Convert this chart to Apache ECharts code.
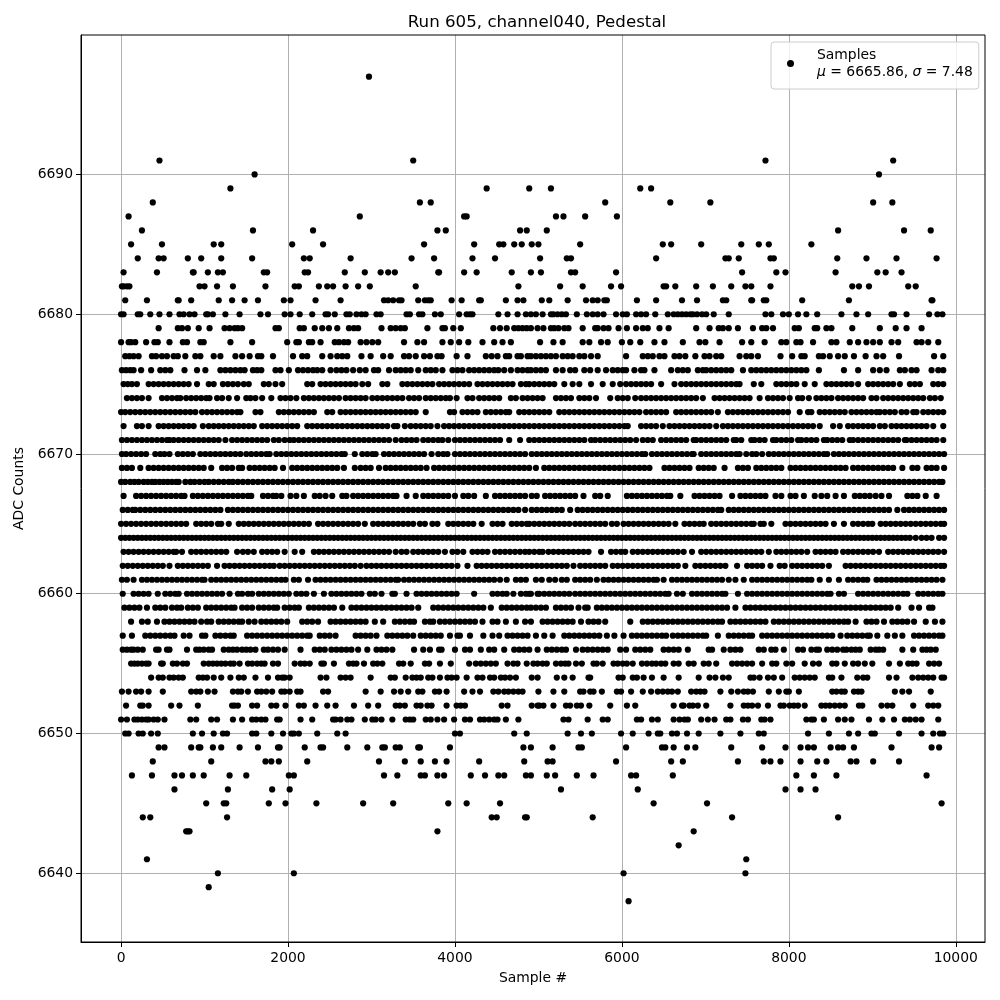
<!DOCTYPE html>
<html>
<head>
<meta charset="utf-8">
<title>Run 605, channel040, Pedestal</title>
<script src="https://cdn.jsdelivr.net/npm/echarts@6/dist/echarts.min.js"></script>
<style>html,body{margin:0;padding:0;background:#fff}#chart{width:1000px;height:1000px}</style>
</head>
<body>
<div id="chart"></div>
<script>
// sample numbers, in tens of samples, one list per ADC level
const sampleStep = 10;
const adc6697 = [297];
const adc6691 = [46,350,772,925];
const adc6690 = [160,908];
const adc6689 = [131,438,489,515,622,635];
const adc6688 = [38,358,371,580,658,706,901,924];
const adc6687 = [9,286,411,414,521,530,556,594];
const adc6686 = [25,158,230,379,389,478,486,510,859,938,970];
const adc6685 = [12,49,111,120,205,242,363,423,453,458,471,480,492,500,550,649,659,695,743,764,776,827];
const adc6684 = [20,45,51,80,96,120,157,219,226,275,348,375,421,448,502,534,539,641,724,728,740,778,782,858,893,929,977];
const adc6683 = [3,43,86,87,104,116,122,171,175,220,224,268,292,311,320,328,380,381,411,426,468,491,503,539,544,593,744,785,796,856,906,916,935];
const adc6682 = [1,3,7,10,94,100,115,134,173,208,213,237,247,254,269,284,298,353,476,526,553,587,599,650,653,664,689,709,731,748,755,778,876,884,896,943,952];
const adc6681 = [5,31,68,69,84,117,133,148,164,195,203,233,263,315,320,326,333,336,356,364,368,371,396,408,429,431,461,475,482,504,513,535,557,565,571,579,582,618,641,672,690,721,725,755,756,770,773,816,872,971,972];
const adc6680 = [0,3,20,23,35,46,58,70,75,82,88,102,104,110,125,142,167,176,196,203,214,229,245,248,256,270,274,282,288,293,306,311,342,346,357,361,376,383,405,414,418,421,452,463,475,485,491,497,505,515,518,523,528,533,546,558,565,571,578,593,601,606,617,623,629,640,655,662,667,672,677,682,685,690,696,701,710,728,772,779,793,800,811,821,834,863,881,895,923,926,941,968,978,984];
const adc6679 = [45,68,73,80,93,106,124,130,136,140,145,185,189,214,219,232,241,249,259,273,279,284,312,323,329,335,340,367,385,388,398,407,446,454,462,471,476,481,486,491,499,506,515,519,524,531,536,553,568,571,578,584,596,606,617,625,631,645,656,689,705,716,721,728,739,757,768,773,781,807,812,831,834,845,851,876,909,928,941,959];
const adc6678 = [0,9,12,17,30,40,44,58,74,79,95,99,131,157,199,210,213,225,229,239,256,261,267,272,287,294,301,308,339,355,363,385,395,405,416,433,447,457,467,502,518,529,553,561,575,583,600,610,622,639,651,673,693,700,717,744,755,771,791,797,809,814,829,851,857,873,883,893,901,909,923,931,953,959,967,979];
const adc6677 = [5,10,15,21,37,42,49,55,63,68,77,89,95,111,119,137,145,154,164,168,182,206,217,223,241,251,259,265,271,288,299,314,323,339,345,353,363,370,379,384,402,415,437,444,451,461,465,475,479,487,491,497,503,509,515,521,529,535,541,549,555,563,571,605,625,631,637,645,651,663,669,676,688,699,705,713,719,741,749,755,763,790,804,815,819,836,841,849,859,867,878,892,905,913,932,974,985];
const adc6676 = [1,6,11,15,24,36,47,53,59,76,91,101,119,125,131,137,143,148,158,163,168,185,191,201,212,218,224,230,235,241,251,258,264,270,278,286,293,303,308,321,329,335,341,347,356,365,371,377,385,397,403,409,417,423,429,435,441,447,452,459,467,475,481,487,491,497,503,509,521,529,538,544,555,562,571,581,589,595,601,605,615,623,627,639,659,667,673,679,691,697,701,707,713,719,725,731,745,755,761,767,773,779,785,791,797,803,809,815,821,836,866,883,901,909,917,933,939,947,953,971,979,985];
const adc6675 = [3,8,13,19,33,39,45,51,57,63,69,75,81,91,105,111,122,128,134,140,147,153,171,177,185,193,223,229,239,245,251,257,263,269,275,281,289,296,313,319,337,343,349,355,361,367,373,381,387,393,399,405,411,417,427,433,439,445,451,457,463,469,479,485,489,495,501,507,513,519,531,541,549,563,577,589,598,605,611,617,623,629,635,647,663,671,677,683,689,695,701,707,713,719,725,731,737,741,758,767,785,791,797,803,809,819,831,845,851,857,863,869,875,883,895,901,907,913,919,925,933,945,951,957,973,979,985];
const adc6674 = [7,13,19,25,33,49,55,61,67,71,78,84,90,96,102,106,115,121,129,139,150,155,161,169,180,191,197,203,210,219,225,231,237,243,249,255,261,269,275,281,287,293,301,307,313,319,325,331,337,345,351,357,365,371,377,383,389,394,402,415,421,429,435,441,447,453,467,473,481,487,493,499,505,521,527,533,539,549,555,561,569,586,595,601,607,616,623,629,635,641,647,653,659,665,671,677,683,689,697,711,717,723,729,735,741,747,753,765,775,781,787,793,801,811,816,824,833,839,845,851,859,865,871,877,883,889,899,905,913,919,925,931,937,943,949,955,961,969,975,982];
const adc6673 = [0,5,11,17,23,29,35,41,47,53,59,65,71,77,83,89,97,103,109,115,121,127,133,139,143,161,167,189,195,201,207,213,219,225,231,247,253,263,269,275,281,287,293,299,305,311,317,323,329,335,341,347,353,365,394,399,409,415,421,427,437,443,449,455,461,465,477,483,489,495,501,507,513,525,531,537,543,549,555,561,567,573,579,585,591,597,603,609,615,621,629,635,641,647,653,665,671,677,683,689,695,701,707,715,727,733,739,745,751,757,763,769,775,781,787,793,799,813,823,827,837,843,849,855,861,867,875,881,887,893,899,905,909,915,921,927,935,941,949,953,961,967,973,979,985];
const adc6672 = [3,19,25,33,45,51,57,63,69,75,81,87,98,105,111,117,123,129,135,141,147,153,159,169,175,181,187,193,199,205,211,223,229,235,241,247,253,259,265,271,277,283,289,295,301,307,313,319,327,331,340,347,353,359,365,371,379,387,393,399,405,411,417,423,429,435,441,447,453,459,465,471,477,483,489,495,501,507,513,519,525,531,537,543,549,555,561,567,573,579,585,591,597,603,607,623,629,635,641,649,657,663,669,675,681,687,693,699,705,713,721,727,733,739,745,751,757,763,769,775,781,787,793,799,805,811,817,823,829,837,853,861,871,877,883,889,895,901,909,915,923,929,935,941,947,953,959,965,973,985];
const adc6671 = [1,7,13,19,25,31,37,43,49,55,58,63,69,75,81,87,93,99,105,111,117,125,133,139,145,151,157,163,169,175,183,189,196,202,207,213,219,225,231,237,243,249,255,261,267,273,279,285,291,297,303,309,315,321,329,336,342,348,354,362,368,374,380,385,392,400,406,412,418,424,430,436,442,448,454,465,478,489,495,501,507,513,519,525,531,537,543,549,555,563,568,574,580,586,592,598,604,610,617,625,631,637,647,653,659,665,671,677,686,689,695,701,707,713,719,725,734,737,743,755,759,765,771,781,785,791,797,803,811,815,821,827,833,842,846,852,858,864,873,877,883,889,895,901,907,913,919,925,931,939,941,947,953,959,965,971,977,985];
const adc6670 = [1,6,12,18,24,30,41,47,52,58,68,74,80,86,95,101,107,113,119,125,131,137,143,150,156,162,168,174,178,186,192,198,204,210,216,222,228,234,240,246,252,258,264,268,280,289,295,301,305,315,321,327,333,339,345,351,357,363,372,380,386,391,400,406,412,418,424,430,436,442,448,454,460,466,472,478,484,492,498,504,510,516,522,528,534,540,546,552,558,564,570,576,582,588,594,600,606,612,618,624,628,636,642,648,654,660,666,672,678,684,686,695,701,707,713,719,725,731,737,741,749,756,761,768,776,782,788,794,800,806,812,818,824,830,836,842,846,854,860,866,872,878,884,890,896,902,908,914,920,926,932,938,944,950,956,962,968,974,980,986];
const adc6669 = [1,7,13,23,33,39,45,51,57,63,69,75,81,87,93,99,108,121,127,133,141,145,154,160,166,172,178,184,194,205,211,217,223,229,235,241,247,253,259,267,280,287,293,299,309,317,323,329,335,341,347,353,359,366,375,381,387,393,399,405,411,417,423,429,435,441,447,453,459,465,471,477,483,489,497,507,513,519,525,531,537,543,549,555,561,567,573,579,585,591,597,603,609,615,621,627,633,651,657,663,669,675,681,692,698,704,710,723,739,745,751,761,767,773,779,785,791,802,808,814,820,826,832,838,844,850,856,862,868,877,883,889,895,901,907,913,919,925,936,948,954,965,971,977,986];
const adc6668 = [0,5,11,16,21,27,32,37,41,46,51,56,61,66,69,77,83,88,94,100,105,111,117,123,129,134,140,146,152,158,164,170,176,182,188,194,200,206,212,218,224,230,236,242,248,254,260,266,272,278,284,290,296,302,308,314,320,326,332,338,344,350,356,362,368,374,380,386,392,398,404,410,416,422,428,434,440,446,452,458,464,470,476,482,488,494,500,506,512,518,524,530,536,542,548,554,560,566,572,578,584,590,596,602,608,614,620,626,632,638,644,650,656,662,668,674,680,686,692,698,704,710,716,722,728,734,740,746,752,758,764,770,776,782,788,794,800,806,812,818,824,830,836,842,848,854,860,866,872,878,884,890,896,902,908,914,920,926,932,938,944,950,956,962,968,974,980,984];
const adc6667 = [3,18,24,30,36,42,48,54,60,66,72,76,86,92,98,104,110,116,122,128,134,140,146,152,156,170,176,182,186,192,203,210,219,232,238,245,253,265,270,278,284,290,296,302,308,314,320,326,330,342,353,362,368,374,380,386,392,400,410,416,423,437,448,454,460,466,472,478,484,492,498,508,514,520,526,532,538,544,554,568,574,583,606,612,618,624,630,636,642,648,654,658,670,687,693,699,705,711,717,732,742,748,754,760,766,772,784,791,802,808,818,831,839,846,856,866,879,885,891,897,904,911,920,942,948,954,964,977];
const adc6666 = [2,8,14,17,23,29,35,41,47,53,59,65,71,77,83,89,95,101,107,113,119,128,134,140,146,152,158,164,170,176,182,188,194,200,206,212,218,224,230,236,242,248,254,260,266,272,278,284,290,296,302,308,314,320,326,332,338,344,350,356,362,368,374,380,386,392,398,404,410,416,422,428,434,440,446,452,458,464,470,476,484,492,498,504,510,516,522,528,538,547,553,559,565,571,577,583,589,595,601,607,613,619,625,631,637,643,649,655,661,667,673,679,685,691,697,703,709,715,719,728,734,740,746,752,758,764,770,776,782,788,794,800,806,812,818,824,830,836,842,848,854,860,866,872,878,884,890,896,902,908,914,920,930,938,944,950,956,962,968,974,980,986];
const adc6665 = [0,6,12,18,24,30,36,42,48,54,60,66,72,78,90,96,102,108,116,120,129,141,147,153,159,165,171,177,183,189,195,201,207,213,219,225,236,242,248,254,260,266,272,278,284,292,302,308,314,320,326,332,338,344,350,358,364,373,379,392,398,404,410,416,422,432,445,451,457,468,474,480,486,489,495,501,507,513,519,525,531,537,544,550,556,562,568,574,580,588,594,602,608,614,620,626,632,638,644,650,656,664,675,681,687,693,698,707,713,719,725,731,737,743,749,755,758,766,770,779,796,802,808,814,820,826,832,838,844,854,866,877,883,889,895,900,910,916,922,928,934,940,946,952,958,964,970,976,982,986];
const adc6664 = [0,5,10,15,20,25,30,35,40,45,50,55,60,65,70,75,80,85,90,95,100,105,110,115,120,125,130,135,140,145,150,155,160,165,170,175,180,185,190,195,200,205,210,215,220,225,230,235,240,245,250,255,260,265,270,275,280,285,290,295,300,305,310,315,320,325,330,335,340,345,350,355,360,365,370,375,380,385,390,395,400,405,410,415,420,425,430,435,440,445,450,455,460,465,470,475,480,485,490,495,500,505,510,515,520,525,530,535,540,545,550,555,560,565,570,575,580,585,590,595,600,605,610,615,620,625,630,635,640,645,650,655,660,665,670,675,680,685,690,695,700,705,710,715,720,725,730,735,740,745,750,755,760,765,770,775,780,785,790,795,800,805,810,815,820,825,830,835,840,845,850,855,860,865,870,875,880,885,890,895,900,905,910,915,920,925,930,935,940,945,952,959,965,971,980,986];
const adc6663 = [3,9,15,21,27,33,39,45,51,57,63,66,73,84,90,96,102,108,114,120,126,139,146,152,159,169,175,181,187,196,208,217,231,237,243,249,255,261,267,273,279,285,291,297,303,309,315,321,329,336,342,350,356,362,368,374,380,388,397,403,410,421,427,433,439,448,454,460,466,472,478,484,489,495,501,505,512,518,524,530,536,542,548,554,560,575,587,593,599,604,613,619,625,631,637,643,649,655,661,667,674,684,695,701,707,713,719,725,731,737,743,749,755,761,767,776,785,791,797,803,809,815,822,832,838,844,850,856,865,871,877,883,889,895,901,908,919,925,931,937,943,949,955,961,967,973,979,986];
const adc6662 = [2,8,14,20,26,32,38,44,50,58,68,74,80,86,92,98,104,115,124,130,136,142,148,154,160,166,172,178,183,190,196,202,208,214,220,226,232,238,244,250,256,262,268,274,280,287,294,300,306,312,318,324,330,336,342,348,354,360,366,372,378,384,390,396,403,415,426,432,438,444,450,456,462,468,474,480,486,492,498,504,510,516,522,528,534,542,550,556,562,568,574,580,589,595,601,607,613,619,625,631,637,643,649,655,661,667,676,688,694,700,706,712,718,724,738,750,756,762,768,778,789,795,804,810,816,822,828,834,840,848,868,874,880,886,892,898,904,910,916,922,928,934,940,946,952,958,964,970,976,982,986];
const adc6661 = [1,7,15,25,31,37,43,49,55,61,67,73,79,85,91,97,100,108,114,120,126,132,138,144,150,156,162,168,174,180,186,192,197,207,213,224,233,239,245,251,257,263,269,275,281,287,293,299,305,311,317,323,329,332,339,345,351,357,363,369,375,381,387,393,399,405,411,417,423,429,435,441,447,454,462,473,479,485,497,504,513,520,528,534,544,550,556,562,570,578,584,590,596,602,608,614,620,626,632,638,642,650,660,666,672,678,684,690,696,702,708,714,720,728,736,746,756,762,768,774,780,786,792,798,804,810,816,822,827,837,848,860,871,877,883,889,894,905,911,917,923,929,935,941,947,953,959,965,971,977,984];
const adc6660 = [2,15,21,27,33,44,53,59,65,69,79,85,91,97,103,109,115,121,130,140,145,152,157,165,171,177,183,189,195,201,210,216,222,231,243,252,258,264,270,276,282,288,298,304,312,325,328,342,354,360,366,372,378,384,390,396,402,423,445,451,457,462,470,479,485,489,491,499,501,507,513,519,525,531,537,544,550,556,562,568,574,580,586,592,598,604,610,616,622,628,634,640,646,652,656,666,673,684,690,696,702,708,714,720,724,739,750,756,762,768,774,780,786,792,798,804,810,816,822,828,834,840,846,850,860,866,883,889,895,901,907,913,919,925,931,937,942,955,961,967,973,979,984];
const adc6659 = [4,10,16,22,31,41,47,53,61,67,72,80,86,92,102,108,114,120,126,132,136,145,151,157,165,171,177,183,187,196,202,208,213,225,231,237,243,249,255,265,276,282,288,294,300,306,312,318,324,330,336,342,348,356,374,380,386,392,398,404,410,416,422,428,434,443,456,462,468,474,480,486,491,497,503,509,521,527,533,539,548,556,559,570,576,582,588,594,600,606,612,618,624,630,636,642,648,654,660,666,672,678,684,690,696,702,708,714,720,726,736,748,754,760,766,772,778,784,790,796,802,808,814,820,826,832,838,844,850,856,862,868,874,880,886,892,898,904,910,916,922,931,947,956,968,972];
const adc6658 = [12,25,32,43,52,58,64,70,76,82,88,96,103,108,117,123,129,135,141,145,153,160,168,174,180,186,192,199,217,223,229,236,251,257,263,269,275,281,287,293,304,314,328,334,340,346,351,364,370,374,382,388,394,400,406,412,418,424,433,445,451,461,473,484,491,505,511,517,523,529,535,541,551,560,566,572,580,610,625,631,637,643,649,655,661,667,673,679,685,691,697,703,709,715,720,730,736,742,748,754,760,766,772,782,788,794,800,806,812,818,824,830,836,842,848,854,860,866,871,880,893,899,905,914,924,930,936,942,950,964,975,984];
const adc6657 = [2,13,29,35,41,47,53,59,64,75,82,97,101,113,119,125,131,135,151,157,163,169,175,181,187,193,199,205,211,217,223,226,238,244,250,257,281,287,293,299,306,319,325,331,337,343,350,359,365,371,377,383,394,403,406,418,434,445,453,463,469,475,481,487,497,507,517,531,537,543,549,555,561,567,573,582,591,602,612,618,624,630,636,642,648,653,661,667,673,679,685,691,697,701,715,728,734,740,746,752,756,768,774,780,786,792,798,804,810,816,822,828,834,840,846,852,862,870,876,882,888,894,897,906,918,927,936,950,956,962,968,974,980,984];
const adc6656 = [2,7,12,15,20,26,42,45,55,58,79,90,94,99,105,109,123,129,134,139,145,150,155,161,171,176,182,188,196,215,232,238,244,252,258,264,270,276,284,295,306,312,318,325,351,362,370,381,384,400,412,418,431,441,447,459,471,477,483,489,499,510,516,522,528,533,545,553,559,565,571,577,583,598,605,616,622,628,634,650,656,662,668,679,704,708,722,730,736,742,764,770,779,784,794,811,817,827,833,836,846,852,858,865,869,875,880,885,898,904,908,913,936,949,960,965,970,976];
const adc6655 = [12,16,20,25,30,33,48,50,62,67,74,79,99,105,110,115,120,125,131,135,142,152,157,163,168,172,182,188,208,215,220,226,240,243,255,273,278,282,291,302,307,313,333,338,347,364,369,382,395,417,425,431,437,443,449,463,470,475,486,494,499,505,510,521,527,532,536,545,552,566,570,577,590,595,601,606,613,624,630,636,641,647,652,662,668,680,686,698,704,713,732,738,744,750,756,768,780,785,797,804,819,829,836,852,857,867,877,883,891,900,920,933,943,948,953,968,974,980];
const adc6654 = [36,45,50,58,63,69,74,93,98,103,111,120,131,141,147,161,176,188,193,196,202,239,246,263,269,275,299,323,328,341,349,354,359,368,373,382,391,396,402,414,427,433,442,447,455,460,466,473,492,499,522,531,541,560,562,596,601,613,618,626,636,650,668,692,705,712,721,728,754,758,765,775,782,792,807,813,819,825,831,848,852,863,882,889,894,920,929,948,955,961,967,973,983,986];
const adc6653 = [1,9,18,24,33,50,84,90,95,104,112,134,140,144,152,163,168,174,181,192,196,202,211,215,242,248,293,311,327,335,344,356,361,376,381,390,411,421,430,446,452,459,464,470,476,481,500,518,531,550,554,562,566,576,594,599,611,625,635,643,649,655,660,667,683,689,694,699,718,731,739,746,751,757,776,788,797,800,812,852,857,863,867,878,883,887,927,936,944,970];
const adc6652 = [6,23,26,33,60,70,92,133,136,140,157,163,180,186,197,213,219,233,247,257,279,296,308,329,334,340,354,359,367,372,390,402,407,412,456,463,492,499,501,506,518,533,538,546,551,561,586,606,616,662,672,674,681,685,691,701,730,746,751,756,763,775,790,794,801,806,811,819,839,844,849,855,861,867,884,888,911,918,924,949,967,973,979];
const adc6651 = [0,7,16,20,25,30,33,39,44,52,83,90,108,115,134,145,157,162,168,173,187,190,215,229,254,257,263,271,276,292,301,305,312,325,341,346,350,365,371,379,387,399,412,418,430,435,441,447,451,461,476,530,536,559,577,583,618,623,636,643,662,669,675,679,695,703,711,725,730,745,751,767,771,778,821,827,830,842,859,867,875,896,912,926,939,945,952,959,979];
const adc6650 = [5,9,21,26,36,44,86,97,111,122,127,157,162,180,194,204,207,213,235,259,269,400,406,471,486,535,551,564,599,613,632,643,646,660,666,678,692,718,742,764,770,823,848,872,883,899,903,932,959,973,981,985];
const adc6649 = [45,52,84,93,95,110,120,142,164,188,190,220,239,242,271,295,313,316,329,334,356,358,394,482,491,517,548,552,605,648,652,662,678,688,731,768,796,814,823,830,850,859,865,878,923,971,980];
const adc6648 = [38,108,173,180,189,223,309,340,359,376,390,429,483,511,517,593,659,673,739,770,778,790,814,834,845,874,881,901,932];
const adc6647 = [13,37,64,73,86,99,130,150,201,207,315,331,359,364,379,387,419,436,452,459,485,491,510,520,546,566,611,617,661,809,830,857,965];
const adc6646 = [64,128,181,202,527,619,796,814,832];
const adc6645 = [102,123,126,177,197,234,290,326,392,414,454,638,702,983];
const adc6644 = [26,35,127,444,450,484,486,565,732,859];
const adc6643 = [78,80,82,379,686];
const adc6642 = [668];
const adc6641 = [31,749];
const adc6640 = [116,207,602,748];
const adc6639 = [105];
const adc6638 = [608];

const levels = [6697,6691,6690,6689,6688,6687,6686,6685,6684,6683,6682,6681,6680,6679,6678,6677,6676,6675,6674,6673,6672,6671,6670,6669,6668,6667,6666,6665,6664,6663,6662,6661,6660,6659,6658,6657,6656,6655,6654,6653,6652,6651,6650,6649,6648,6647,6646,6645,6644,6643,6642,6641,6640,6639,6638];
const levelSamples = [adc6697,adc6691,adc6690,adc6689,adc6688,adc6687,adc6686,adc6685,adc6684,adc6683,adc6682,adc6681,adc6680,adc6679,adc6678,adc6677,adc6676,adc6675,adc6674,adc6673,adc6672,adc6671,adc6670,adc6669,adc6668,adc6667,adc6666,adc6665,adc6664,adc6663,adc6662,adc6661,adc6660,adc6659,adc6658,adc6657,adc6656,adc6655,adc6654,adc6653,adc6652,adc6651,adc6650,adc6649,adc6648,adc6647,adc6646,adc6645,adc6644,adc6643,adc6642,adc6641,adc6640,adc6639,adc6638];
const xTicks = [0,2000,4000,6000,8000,10000];
const yTicks = [6640,6650,6660,6670,6680,6690];

const points = [];
levels.forEach(function (level, i) {
    levelSamples[i].forEach(function (s) {
        points.push([s * sampleStep, level]);
    });
});

const font = 'DejaVu Sans';
const myChart = echarts.init(document.getElementById('chart'));
const option = {
    animation: false,
    textStyle: { fontFamily: font },
    title: {
        text: 'Run 605, channel040, Pedestal',
        left: 532,
        top: 9,
        textAlign: 'center',
        textStyle: { fontFamily: font, fontSize: 16.67, fontWeight: 'normal', color: '#000' }
    },
    legend: {
        left: 771,
        top: 42,
        padding: [6, 6, 10, 16],
        backgroundColor: 'rgba(255,255,255,0.8)',
        borderColor: '#ccc',
        borderWidth: 1,
        borderRadius: 3,
        itemWidth: 7,
        itemHeight: 7,
        icon: 'circle',
        data: ['Samples'],
        formatter: function () {
            return '{a|Samples}\n{i|μ}{a| = 6665.86, }{i|σ}{a| = 7.48}';
        },
        textStyle: {
            color: '#000',
            padding: [0, 0, 0, 18],
            rich: {
                a: { fontFamily: font, fontSize: 13.9, lineHeight: 17, color: '#000' },
                i: { fontFamily: font, fontSize: 13.9, lineHeight: 17, fontStyle: 'italic', color: '#000' }
            }
        }
    },
    grid: {
        left: 81,
        right: 15,
        top: 35,
        bottom: 58,
        show: true,
        borderColor: '#000',
        borderWidth: 1,
        z: 1
    },
    xAxis: {
        type: 'value',
        min: -480,
        max: 10350,
        name: 'Sample #',
        nameLocation: 'middle',
        nameGap: 29,
        nameTextStyle: { fontFamily: font, fontSize: 13.9, color: '#000' },
        axisLine: { show: true, onZero: false, lineStyle: { color: '#000', width: 1 } },
        axisTick: { show: true, length: 5, customValues: xTicks, lineStyle: { color: '#000' } },
        axisLabel: { customValues: xTicks, fontFamily: font, fontSize: 13.9, color: '#000', margin: 9, formatter: function (v) { return String(v); } },
        splitLine: { show: true, lineStyle: { color: '#b0b0b0', width: 1 } }
    },
    yAxis: {
        type: 'value',
        min: 6635.08,
        max: 6699.98,
        name: 'ADC Counts',
        nameLocation: 'middle',
        nameGap: 51,
        nameTextStyle: { fontFamily: font, fontSize: 13.9, color: '#000' },
        axisLine: { show: true, onZero: false, lineStyle: { color: '#000', width: 1 } },
        axisTick: { show: true, length: 5, customValues: yTicks, lineStyle: { color: '#000' } },
        axisLabel: { customValues: yTicks, fontFamily: font, fontSize: 13.9, color: '#000', margin: 8, formatter: function (v) { return String(v); } },
        splitLine: { show: true, lineStyle: { color: '#b0b0b0', width: 1 } }
    },
    series: [
        {
            name: 'Samples',
            type: 'scatter',
            symbolSize: 6.2,
            itemStyle: { color: '#000', opacity: 1 },
            data: points
        }
    ]
};
myChart && myChart.setOption(option);
</script>
</body>
</html>
